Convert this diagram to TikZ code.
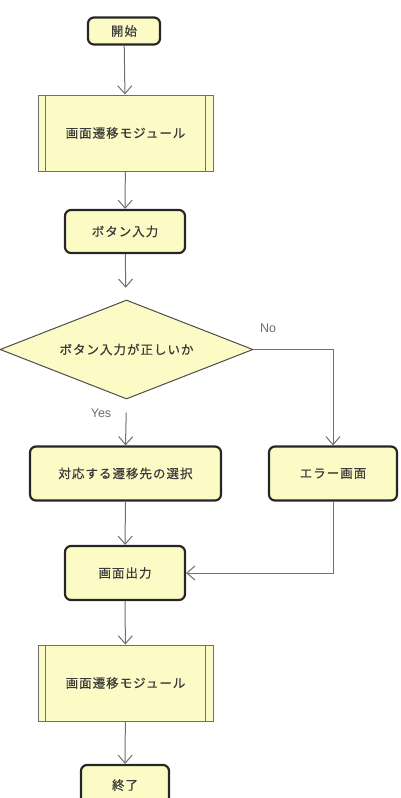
\documentclass[tikz,border=0pt]{standalone}
\usepackage{fontspec}
\setmainfont{Liberation Sans}
\newfontfamily\jp[LetterSpace=8,FakeBold=0.6]{Noto Sans CJK JP}
\usetikzlibrary{shapes.geometric,arrows.meta}
\definecolor{fillY}{HTML}{FCFBC6}
\definecolor{edgeG}{HTML}{6E6E6E}
\definecolor{txt}{HTML}{3A3A3A}
\begin{document}
\begin{tikzpicture}[x=1pt,y=-1pt,
  jptext/.style={font=\jp\fontsize{12.5}{14}\selectfont, text=txt},
  term/.style={jptext, draw=black!85, line width=2.2pt, rounded corners=6pt, fill=fillY, inner sep=0pt},
  module/.style={jptext, draw=edgeG, line width=1pt, fill=fillY, inner sep=0pt, minimum width=175pt, minimum height=76pt},
  dec/.style={jptext, diamond, draw=black!70, line width=1pt, fill=fillY, inner sep=0pt, minimum width=253pt, minimum height=99pt, aspect=2.55},
  flow/.style={draw=edgeG, line width=1pt, -{Straight Barb[length=8pt,width=14pt,line width=1pt]}},
  lbl/.style={font=\fontsize{12.5}{14}\selectfont, text=edgeG, inner sep=0pt}]
\useasboundingbox (0,0) rectangle (400,798);
\node[term, minimum width=72pt, minimum height=27pt] (start) at (124,31) {開始};
\node[module] (m1) at (125.5,133) {画面遷移モジュール};
\node[term, minimum width=120pt, minimum height=43pt] (btn) at (125,231.5) {ボタン入力};
\node[dec] (dec) at (126.5,349.5) {ボタン入力が正しいか};
\node[term, minimum width=191pt, minimum height=54pt] (sel) at (125.5,473.5) {対応する遷移先の選択};
\node[term, minimum width=128pt, minimum height=54pt] (err) at (333,473.5) {エラー画面};
\node[term, minimum width=120pt, minimum height=54pt] (out) at (125,573) {画面出力};
\node[module] (m2) at (125.5,683) {画面遷移モジュール};
\node[term, minimum width=88pt, minimum height=40pt] (end) at (125,785) {終了};
\foreach \n in {m1,m2}{
  \draw[edgeG, line width=1pt] ([xshift=8pt]\n.north west) -- ([xshift=8pt]\n.south west);
  \draw[edgeG, line width=1pt] ([xshift=-8pt]\n.north east) -- ([xshift=-8pt]\n.south east);
}
\node[lbl] (no) at (268,328) {No};
\node[lbl] (yes) at (101,413) {Yes};
\draw[flow] (start) -- (m1);
\draw[flow] (m1) -- (btn);
\draw[flow, shorten >=12pt] (btn) -- (dec);
\draw[flow] (dec.east) -| (err.north);
\draw[flow, shorten <=13pt] (dec.south) -- (sel.north);
\draw[flow] (sel) -- (out);
\draw[flow] (err.south) |- (out.east);
\draw[flow] (out) -- (m2);
\draw[flow] (m2) -- (end);
\end{tikzpicture}
\end{document}
